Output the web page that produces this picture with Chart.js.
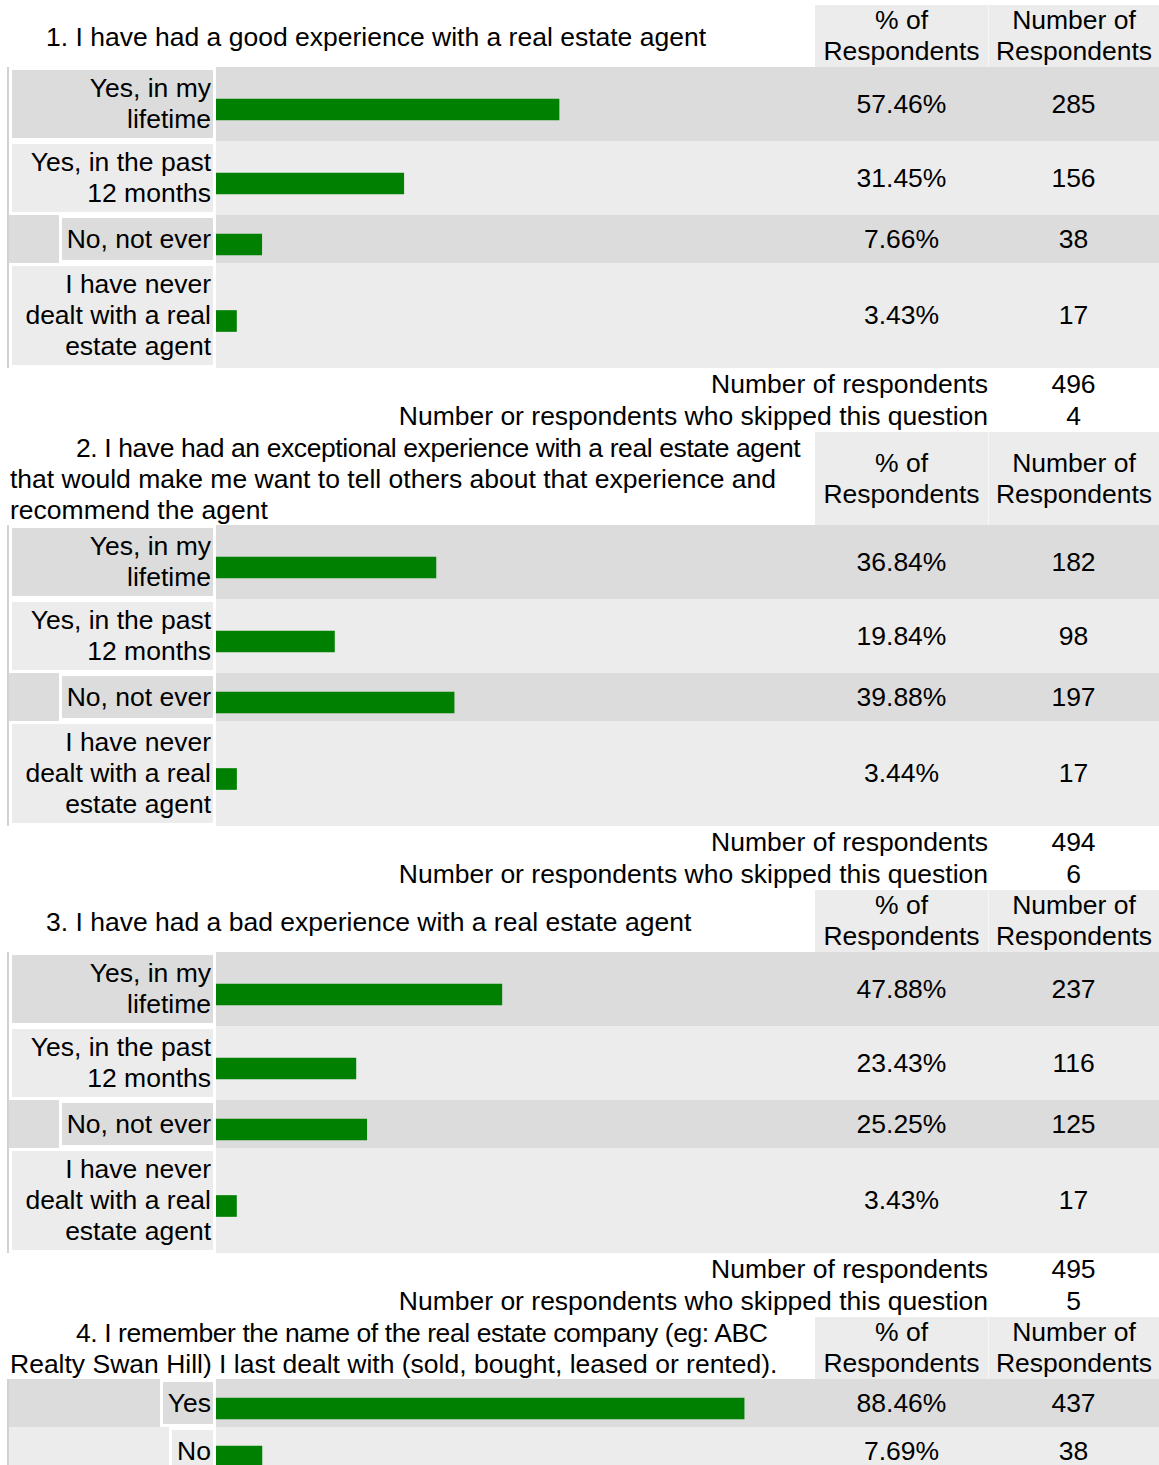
<!DOCTYPE html>
<html>
<head>
<meta charset="utf-8">
<script src="https://cdn.jsdelivr.net/npm/chart.js@4/dist/chart.umd.min.js"></script>
<style>
  html, body { margin:0; padding:0; background:#fff; }
  body { width:1159px; height:1465px; overflow:hidden; position:relative;
         font-family:"Liberation Sans", Arial, sans-serif; font-size:26.5px; line-height:31px; color:#000; }
  .abs { position:absolute; box-sizing:border-box; }
  .center { display:flex; align-items:center; justify-content:center; text-align:center; white-space:pre; }
  .title { display:flex; flex-direction:column; justify-content:center; }
  .title > div { white-space:pre; }
  .lbl { display:flex; align-items:center; justify-content:flex-end; border:3px solid #fff;
         padding:0 2px 0 5px; text-align:right; white-space:pre; }
  .right { display:flex; align-items:center; justify-content:flex-end; white-space:pre; }
</style>
</head>
<body>
<script>
// ---------- DATA ----------
const questionTitles = [
  "1. I have had a good experience with a real estate agent",
  "2. I have had an exceptional experience with a real estate agent\nthat would make me want to tell others about that experience and\nrecommend the agent",
  "3. I have had a bad experience with a real estate agent",
  "4. I remember the name of the real estate company (eg: ABC\nRealty Swan Hill) I last dealt with (sold, bought, leased or rented)."
];
const headerLabels = ["% of\nRespondents", "Number of\nRespondents"];
const answerLabels = ["Yes, in my\nlifetime", "Yes, in the past\n12 months", "No, not ever", "I have never\ndealt with a real\nestate agent"];
const q4Labels = ["Yes", "No"];

const q1Pct = [57.46, 31.45, 7.66, 3.43];
const q1Count = [285, 156, 38, 17];
const q2Pct = [36.84, 19.84, 39.88, 3.44];
const q2Count = [182, 98, 197, 17];
const q3Pct = [47.88, 23.43, 25.25, 3.43];
const q3Count = [237, 116, 125, 17];
const q4Pct = [88.46, 7.69];
const q4Count = [437, 38];

const respondents = [496, 494, 495];
const skipped = [4, 6, 5];
const summaryLabels = ["Number of respondents", "Number or respondents who skipped this question"];

// ---------- LAYOUT ----------
const questions = [
  { labels: answerLabels, pct: q1Pct, count: q1Count, indent: 36, spacing: [0] },
  { labels: answerLabels, pct: q2Pct, count: q2Count, indent: 66, spacing: [-0.4, 0, 0] },
  { labels: answerLabels, pct: q3Pct, count: q3Count, indent: 36, spacing: [0] },
  { labels: q4Labels, pct: q4Pct, count: q4Count, indent: 66, spacing: [-0.42, 0] }
];
const LINE = 31;
const DARK = "#dcdcdc", LIGHT = "#ececec";
const BAR_X = 216, BAR_W = 597, PCT_X = 815, PCT_W = 173, CNT_X = 988, CNT_W = 171;

function el(cls, x, y, w, h, text, extra) {
  const d = document.createElement("div");
  d.className = "abs " + (cls || "");
  d.style.left = x + "px"; d.style.top = y + "px";
  if (w != null) d.style.width = w + "px";
  if (h != null) d.style.height = h + "px";
  if (extra) Object.assign(d.style, extra);
  if (text != null) {
    const inner = document.createElement("div");
    inner.textContent = text;
    d.appendChild(inner);
  }
  document.body.appendChild(d);
  return d;
}

function rowHeight(label) {
  const n = label.split("\n").length;
  return n === 1 ? 48 : (n === 2 ? 74 : 105);
}

let y = 5;
questions.forEach((q, qi) => {
  const title = questionTitles[qi];
  const lines = title.split("\n");
  const hh = Math.max(62, lines.length * LINE);
  // title
  const t = el("title", 10, y + 1, 805, hh, null);
  lines.forEach((ln, li) => {
    const d = document.createElement("div");
    d.textContent = ln;
    if (li === 0) d.style.marginLeft = q.indent + "px";
    d.style.letterSpacing = (q.spacing[li] || 0) + "px";
    t.appendChild(d);
  });
  // header cells
  el("center", PCT_X, y, PCT_W, hh, headerLabels[0], { background: LIGHT });
  el("center", CNT_X, y, CNT_W, hh, headerLabels[1], { background: LIGHT, borderLeft: "1px solid #f6f6f6" });
  y += hh;

  q.labels.forEach((lab, i) => {
    const h = rowHeight(lab);
    const bg = i % 2 === 0 ? DARK : LIGHT;
    el("", 7, y, 1159 - 7, h, null, { background: bg, borderLeft: "2px solid #d2d2d2" });
    const multi = lab.indexOf("\n") >= 0;
    const lb = el("lbl", 0, y, multi ? 207 : null, h, lab, { background: bg });
    lb.style.left = "auto";
    lb.style.right = (1159 - BAR_X) + "px";
    el("center", PCT_X, y, PCT_W, h, q.pct[i].toFixed(2) + "%");
    el("center", CNT_X, y, CNT_W, h, String(q.count[i]));

    // bar chart for this row
    const wrap = el("", BAR_X, y, BAR_W, h, null);
    const cv = document.createElement("canvas");
    cv.width = BAR_W; cv.height = h;
    cv.style.width = BAR_W + "px"; cv.style.height = h + "px";
    wrap.appendChild(cv);
    new Chart(cv, {
      type: "bar",
      data: {
        labels: [lab.replace(/\n/g, " ")],
        datasets: [{ data: [q.pct[i]], backgroundColor: "#008000", borderWidth: 0, barThickness: 21 }]
      },
      options: {
        indexAxis: "y",
        responsive: false,
        animation: false,
        devicePixelRatio: 1,
        layout: { padding: { top: 11, left: 0, right: 0, bottom: 0 } },
        scales: {
          x: { min: 0, max: 100, display: false },
          y: { display: false }
        },
        plugins: { legend: { display: false }, tooltip: { enabled: false } }
      }
    });
    y += h;
  });

  if (qi < respondents.length) {
    el("right", 0, y, 988, 32, summaryLabels[0]);
    el("center", CNT_X, y, CNT_W, 32, String(respondents[qi]));
    y += 32;
    el("right", 0, y, 988, 32, summaryLabels[1]);
    el("center", CNT_X, y, CNT_W, 32, String(skipped[qi]));
    y += 32;
  }
});
</script>
</body>
</html>
